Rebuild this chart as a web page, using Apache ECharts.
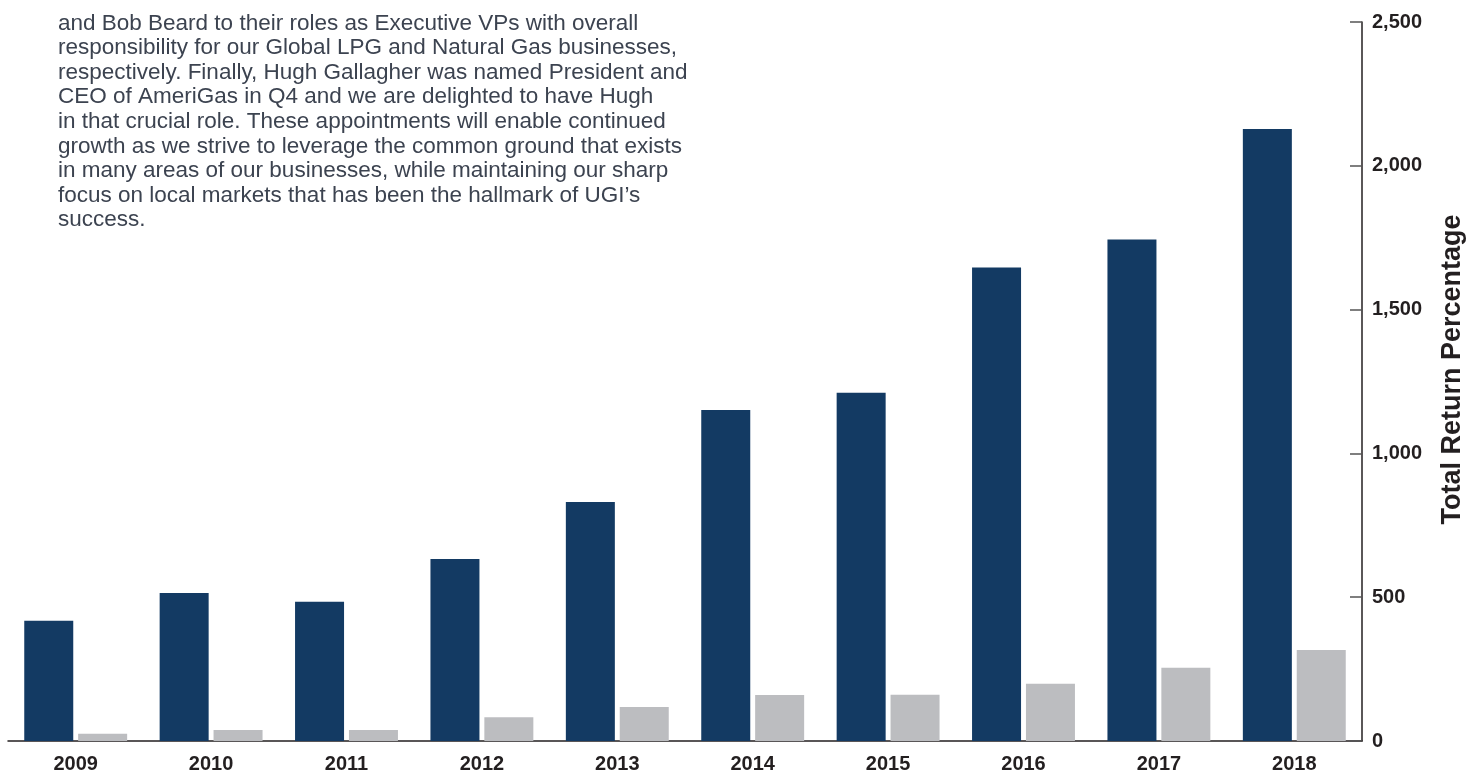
<!DOCTYPE html>
<html>
<head>
<meta charset="utf-8">
<script src="https://cdn.jsdelivr.net/npm/echarts@6/dist/echarts.min.js"></script>
<style>
html,body{margin:0;padding:0;background:#fff;}
#chart{width:1478px;height:774px;}
</style>
</head>
<body>
<div id="chart"></div>
<script>
const years = ['2009','2010','2011','2012','2013','2014','2015','2016','2017','2018'];
const ugiReturn = [418, 515, 484, 633, 831, 1151, 1211, 1646, 1744, 2128];
const benchmarkReturn = [25, 38, 38, 83, 118, 160, 161, 199, 255, 316];
const yTicks = [0, 500, 1000, 1500, 2000, 2500];
const paragraphLines = [
  'and Bob Beard to their roles as Executive VPs with overall',
  'responsibility for our Global LPG and Natural Gas businesses,',
  'respectively. Finally, Hugh Gallagher was named President and',
  'CEO of AmeriGas in Q4 and we are delighted to have Hugh',
  'in that crucial role. These appointments will enable continued',
  'growth as we strive to leverage the common ground that exists',
  'in many areas of our businesses, while maintaining our sharp',
  'focus on local markets that has been the hallmark of UGI\u2019s',
  'success.'
];
const axisName = 'Total Return Percentage';

const chart = echarts.init(document.getElementById('chart'));
chart.setOption({
  animation: false,
  title: {
    text: paragraphLines.join('\n'),
    left: 58,
    top: 11,
    padding: 0,
    textStyle: {
      fontFamily: 'Liberation Sans, Arial, sans-serif',
      fontSize: 22.5,
      fontWeight: 'normal',
      color: '#3c4350',
      lineHeight: 24.6
    }
  },
  grid: { left: 8, right: 116, top: 22, bottom: 33, containLabel: false, outerBoundsMode: 'none' },
  xAxis: {
    type: 'category',
    data: years,
    axisLine: { show: true, lineStyle: { color: '#231f20', width: 1.5 } },
    axisTick: { show: false },
    axisLabel: {
      fontFamily: 'Liberation Sans, Arial, sans-serif',
      fontSize: 20,
      fontWeight: 'bold',
      color: '#231f20',
      margin: 13
    }
  },
  yAxis: {
    type: 'value',
    position: 'right',
    min: 0,
    max: 2500,
    interval: 500,
    name: axisName,
    nameLocation: 'middle',
    nameRotate: 90,
    nameGap: 77,
    nameTextStyle: {
      fontFamily: 'Liberation Sans, Arial, sans-serif',
      fontSize: 27,
      fontWeight: 'bold',
      color: '#231f20',
      padding: [0, 0, 0, 24]
    },
    axisLine: { show: true, lineStyle: { color: '#231f20', width: 1.5 } },
    axisTick: { show: true, inside: true, length: 12, lineStyle: { color: '#555', width: 1.5 } },
    splitLine: { show: false },
    axisLabel: {
      fontFamily: 'Liberation Sans, Arial, sans-serif',
      fontSize: 20,
      fontWeight: 'bold',
      color: '#231f20',
      margin: 10,
      formatter: function (v) { return yTicks.indexOf(v) >= 0 ? v.toLocaleString('en-US') : ''; }
    }
  },
  series: [
    {
      type: 'bar',
      data: ugiReturn,
      barWidth: 49,
      barGap: '10%',
      itemStyle: { color: '#133a63' }
    },
    {
      type: 'bar',
      data: benchmarkReturn,
      barWidth: 49,
      barGap: '10%',
      itemStyle: { color: '#bcbdc0' }
    }
  ]
});
</script>
</body>
</html>
